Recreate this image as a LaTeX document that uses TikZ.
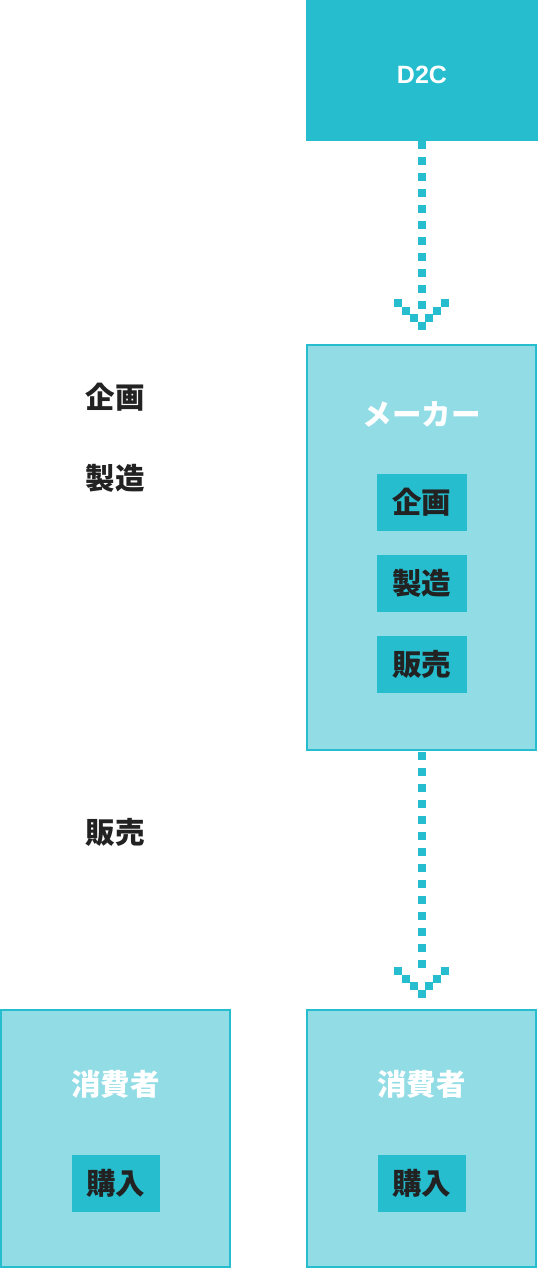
\documentclass[tikz,border=0pt]{standalone}
\usepackage{fontspec}
\setmainfont{Noto Sans CJK JP}
\newfontfamily\latinfont{Liberation Sans}
\usetikzlibrary{calc}
\definecolor{teal}{HTML}{26BDCE}
\definecolor{lightteal}{HTML}{92DDE5}
\definecolor{ink}{HTML}{222222}
\tikzset{
  bigbox/.style={draw=teal, line width=2pt, fill=lightteal, minimum width=229pt, inner sep=0pt},
  titletext/.style={text=white, font=\fontsize{29.5}{29.5}\selectfont\bfseries, inner sep=0pt, text height=22.4pt, text depth=0pt},
  tagbox/.style={fill=teal, text=ink, minimum height=57pt, inner sep=0pt, font=\fontsize{29.5}{29.5}\selectfont\bfseries, text height=22.4pt, text depth=0pt},
  sidelabel/.style={text=ink, inner sep=0pt, font=\fontsize{29.5}{29.5}\selectfont\bfseries, text height=22.4pt, text depth=0pt},
  dotline/.style={draw=teal, line width=8pt, dash pattern=on 8pt off 8pt},
}
\newcommand{\chevron}[1]{%
  \foreach \k in {0,1,2,3}{%
    \fill[teal] ($(#1)+(-7.7*\k-4,-7.7*\k-4)$) rectangle ++(8,8);
    \fill[teal] ($(#1)+(7.7*\k-4,-7.7*\k-4)$) rectangle ++(8,8);
  }%
}
\begin{document}
\begin{tikzpicture}[x=1pt,y=-1pt]
\useasboundingbox (0,0) rectangle (538,1270);
% D2C
\node[fill=teal, minimum width=232pt, minimum height=141pt, inner sep=0pt, text=white,
      font=\latinfont\fontsize{25}{25}\selectfont\bfseries, text height=25pt, text depth=0pt] (d2c) at (422,70.5) {D2C};
% maker
\node[bigbox, minimum height=405pt] (maker) at (421.5,547.5) {};
\node[titletext] (makertitle) at (421.5,414) {メーカー};
\node[tagbox, minimum width=90pt] (plan) at (421.5,502.5) {企画};
\node[tagbox, minimum width=90pt] (make) at (421.5,583.5) {製造};
\node[tagbox, minimum width=90pt] (sell) at (421.5,664.5) {販売};
% side labels
\node[sidelabel] (lplan) at (115,397) {企画};
\node[sidelabel] (lmake) at (115,478) {製造};
\node[sidelabel] (lsell) at (115,832) {販売};
% consumers
\node[bigbox, minimum height=257pt] (consL) at (115.5,1138.5) {};
\node[titletext] (consLtitle) at (115.5,1084) {消費者};
\node[tagbox, minimum width=88pt] (buyL) at (115.5,1183.5) {購入};
\node[bigbox, minimum height=257pt] (consR) at (421.5,1138.5) {};
\node[titletext] (consRtitle) at (421.5,1084) {消費者};
\node[tagbox, minimum width=88pt] (buyR) at (421.5,1183.5) {購入};
% arrow 1
\coordinate (a1s) at ($(d2c.south)+(-0.5,0)$);
\coordinate (a1e) at ($(a1s)+(0,168)$);
\draw[dotline] (a1s) -- (a1e);
\coordinate (tip1) at ($(maker.north)+(0,-18)$);
\chevron{tip1}
% arrow 2
\coordinate (a2s) at ($(maker.south)+(0,1)$);
\coordinate (a2e) at ($(a2s)+(0,216)$);
\draw[dotline] (a2s) -- (a2e);
\coordinate (tip2) at ($(consR.north)+(0,-15)$);
\chevron{tip2}
\end{tikzpicture}
\end{document}
